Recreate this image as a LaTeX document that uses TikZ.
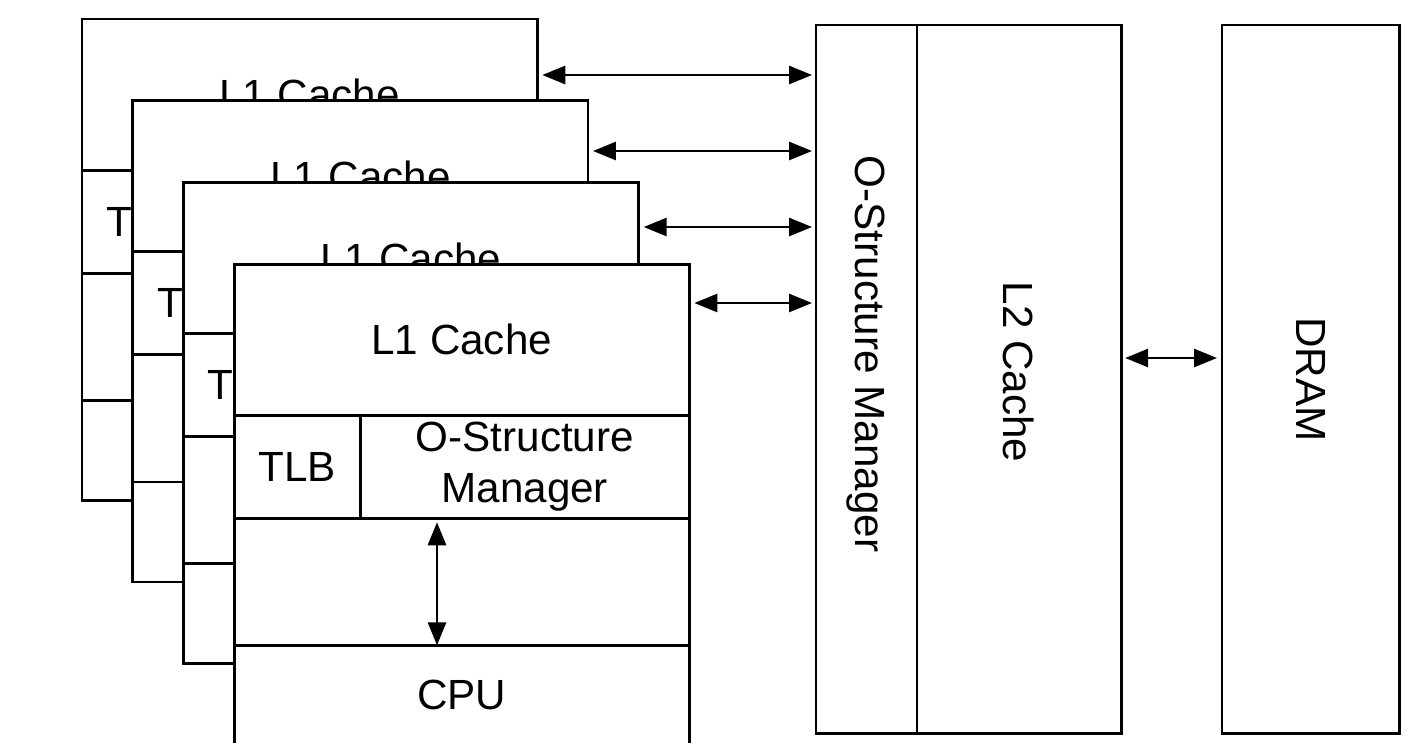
\documentclass[tikz,border=0pt]{standalone}
\usepackage{fontspec}
\setmainfont{Liberation Sans}
\usetikzlibrary{arrows.meta}

\tikzset{
    cell/.style={draw, fill=white, inner sep=0pt, outer sep=0pt, anchor=north west},
}

\begin{document}
\begin{tikzpicture}[x=0.01cm, y=-0.01cm, line width=0.8pt, >={Triangle[length=2.3mm, width=1.8mm]},
    font=\fontsize{12}{14.4}\selectfont]
    \useasboundingbox (0,0) rectangle (1407,742);

    % four processor cards, back to front
    \foreach \i in {0,...,3} {
        \node[cell, minimum width=4.55cm, minimum height=1.51cm] (l1-\i) at ({82+50.7*\i},{19+81.7*\i}) {L1 Cache};
        \node[cell, minimum width=1.26cm, minimum height=1.03cm] (tlb-\i) at (l1-\i.south west) {TLB};
        \node[cell, minimum width=3.29cm, minimum height=1.03cm] (osm-\i) at (tlb-\i.north east) {};
        \node[cell, minimum width=4.55cm, minimum height=1.27cm] (gap-\i) at (tlb-\i.south west) {};
        \node[cell, minimum width=4.55cm, minimum height=1.00cm] (cpu-\i) at (gap-\i.south west) {};
    }
    % only the front card shows these
    \node[align=center] (osm-txt) at (osm-3.center) {O-Structure\\Manager};
    \node (cpu-txt) at (cpu-3.center) {CPU};

    % shared side
    \node[cell, minimum width=1.01cm, minimum height=7.08cm] (ostr) at (816,25) {};
    \node[cell, minimum width=2.04cm, minimum height=7.08cm] (l2) at (ostr.north east) {};
    \node[cell, minimum width=1.77cm, minimum height=7.08cm] (dram) at (1222,25) {};
    \node[rotate=-90] (ostr-txt) at (866,354) {O-Structure Manager};
    \node[rotate=-90] (l2-txt) at (1019,372) {L2 Cache};
    \node[rotate=-90] (dram-txt) at (dram.center) {DRAM};

    % links
    \foreach \i in {0,...,3} {
        \coordinate (h\i) at (0,{75+76*\i});
        \draw[<->, shorten <=0.05cm, shorten >=0.04cm] (l1-\i.east |- h\i) -- (ostr.west |- h\i);
    }
    \coordinate (v) at (437,0);
    \draw[<->, shorten <=0.04cm] (gap-3.north -| v) -- (cpu-3.north -| v);
    \coordinate (d) at (0,358);
    \draw[<->, shorten <=0.04cm, shorten >=0.05cm] (l2.east |- d) -- (dram.west |- d);
\end{tikzpicture}
\end{document}
